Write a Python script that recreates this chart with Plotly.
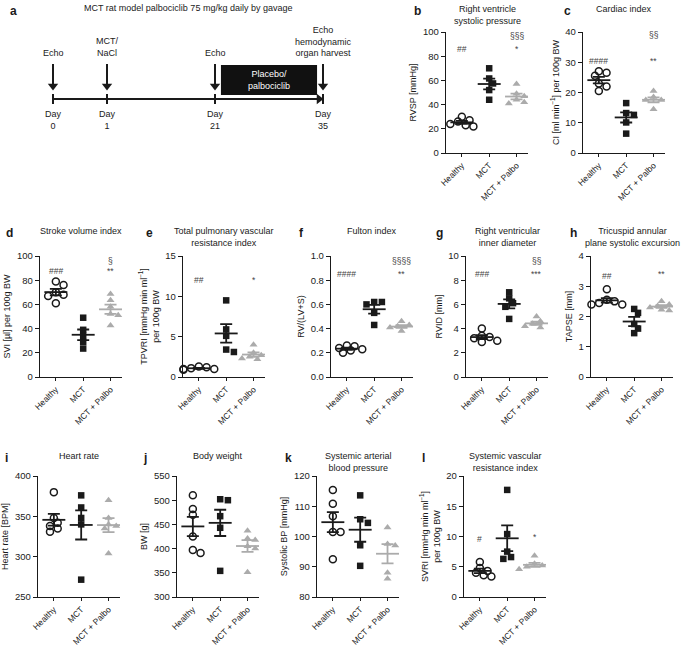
"""
MCT rat model / palbociclib: schematic plus eleven dot plots (mean +/- SEM).
"""
import numpy as np
import plotly.graph_objects as go

W, H = 685, 647
FONT = "Liberation Sans, Arial, sans-serif"
INK = "#1a1a1a"
GREY = "#ababab"

groups = ["Healthy", "MCT", "MCT + Palbo"]

# ---- per-animal values ----
rvsp_healthy = [30, 27, 26, 24, 22, 23]
rvsp_mct = [70, 61.6, 57.5, 52, 44]
rvsp_palbo = [57, 49, 47, 44, 41, 42]

ci_healthy = [26.5, 27, 25.5, 23, 22, 20.5]
ci_mct = [16.5, 13.2, 12.6, 10.1, 6.4]
ci_palbo = [20.5, 18.5, 17.5, 17.5, 17, 14.5]

svi_healthy = [79, 76, 70, 68, 67, 61]
svi_mct = [49, 39, 34, 29, 23.5]
svi_palbo = [68.5, 63.5, 58, 52, 51, 42.5]

tpvri_healthy = [1.2, 1.3, 1.1, 1.0, 0.9, 1.0]
tpvri_mct = [9.5, 5.9, 5.1, 3.4, 3.1]
tpvri_palbo = [4.0, 3.0, 2.7, 2.5, 2.3, 2.2]

fulton_healthy = [0.26, 0.255, 0.24, 0.23, 0.22, 0.20]
fulton_mct = [0.62, 0.62, 0.60, 0.53, 0.43]
fulton_palbo = [0.46, 0.43, 0.42, 0.41, 0.40, 0.38]

rvid_healthy = [4.0, 3.4, 3.3, 3.2, 3.0, 2.9]
rvid_mct = [7.0, 6.5, 6.1, 5.8, 4.8]
rvid_palbo = [5.0, 4.6, 4.4, 4.3, 4.2, 4.1]

tapse_healthy = [2.9, 2.55, 2.5, 2.45, 2.4, 2.4]
tapse_mct = [2.25, 2.12, 1.75, 1.6, 1.45]
tapse_palbo = [2.5, 2.4, 2.35, 2.3, 2.22, 2.2]

hr_healthy = [380, 348, 342, 338, 335, 331]
hr_mct = [376, 361, 348, 340, 271.5]
hr_palbo = [370, 348, 340, 335, 338, 304]

bw_healthy = [510, 482, 470, 425, 397, 391]
bw_mct = [502, 500, 467, 443, 354]
bw_palbo = [437, 421, 418, 405, 400, 351]

sbp_healthy = [115.4, 110.8, 106.7, 101.5, 101.5, 92.5]
sbp_mct = [113.6, 105.7, 104.5, 97.1, 90.3]
sbp_palbo = [103, 97.5, 97, 88, 86]

svri_healthy = [5.8, 4.8, 4.3, 4.0, 3.6, 3.4]
svri_mct = [17.7, 10.4, 7.5, 6.6, 6.3]
svri_palbo = [6.8, 5.5, 5.2, 5.0, 4.8, 4.6]

# ---- timeline of panel a ----
event_days = [0, 1, 21, 35]
event_labels = ["Echo", "MCT/<br>NaCl", "Echo", "Echo<br>hemodynamic<br>organ harvest"]
treatment_days = (21, 35)
treatment_label = "Placebo/<br>palbociclib"
EVENT_SLOT = [0, 1, 3, 5]  # schematic (not to scale) spacing of the days
SLOT_PX = 54
SLOT0_PX = 53

ROWS = {1: (32, 153), 2: (256, 377), 3: (476, 597)}  # y pixel top / bottom of plot areas
AX_W = 82
X_RANGE = [-0.58, 2.42]

panels = [
    dict(letter="b", title="Right ventricle<br>systolic pressure", ytitle="RVSP [mmHg]",
         data=[rvsp_healthy, rvsp_mct, rvsp_palbo], yr=[0, 100], dtick=20, row=1, x0=446, lx=412,
         marks=[("##", 0, 86), ("*", 2, 86), ("§§§", 2, 97)]),
    dict(letter="c", title="Cardiac index", ytitle="CI [ml min<sup>−1</sup>] per 100g BW",
         data=[ci_healthy, ci_mct, ci_palbo], yr=[0, 40], dtick=10, row=1, x0=583, lx=562,
         marks=[("####", 0, 30.5), ("**", 2, 30.5), ("§§", 2, 39)]),
    dict(letter="d", title="Stroke volume index", ytitle="SVI [µl] per 100g BW",
         data=[svi_healthy, svi_mct, svi_palbo], yr=[0, 100], dtick=20, row=2, x0=40, lx=4,
         marks=[("###", 0, 88), ("**", 2, 88), ("§", 2, 96)]),
    dict(letter="e", title="Total pulmonary vascular<br>resistance index",
         ytitle="TPVRI [mmHg min ml<sup>−1</sup>]<br>per 100g BW",
         data=[tpvri_healthy, tpvri_mct, tpvri_palbo], yr=[0, 15], dtick=5, row=2, x0=183, lx=144,
         marks=[("##", 0, 12), ("*", 2, 12)]),
    dict(letter="f", title="Fulton index", ytitle="RV/(LV+S)",
         data=[fulton_healthy, fulton_mct, fulton_palbo], yr=[0, 1], dtick=0.2, fmt=".1f",
         row=2, x0=331, lx=297,
         marks=[("####", 0, 0.85), ("**", 2, 0.85), ("§§§§", 2, 0.96)]),
    dict(letter="g", title="Right ventricular<br>inner diameter", ytitle="RVID [mm]",
         data=[rvid_healthy, rvid_mct, rvid_palbo], yr=[0, 10], dtick=2, row=2, x0=466, lx=434,
         marks=[("###", 0, 8.5), ("***", 2, 8.5), ("§§", 2, 9.6)]),
    dict(letter="h", title="Tricuspid annular<br>plane systolic excursion", ytitle="TAPSE [mm]",
         data=[tapse_healthy, tapse_mct, tapse_palbo], yr=[0, 4], dtick=1, row=2, x0=591, lx=568,
         marks=[("##", 0, 3.35), ("**", 2, 3.4)]),
    dict(letter="i", title="Heart rate", ytitle="Heart rate [BPM]",
         data=[hr_healthy, hr_mct, hr_palbo], yr=[250, 400], dtick=50, row=3, x0=38, lx=3,
         marks=[]),
    dict(letter="j", title="Body weight", ytitle="BW [g]",
         data=[bw_healthy, bw_mct, bw_palbo], yr=[300, 550], dtick=50, row=3, x0=177, lx=141,
         marks=[]),
    dict(letter="k", title="Systemic arterial<br>blood pressure", ytitle="Systolic BP [mmHg]",
         data=[sbp_healthy, sbp_mct, sbp_palbo], yr=[80, 120], dtick=10, row=3, x0=317, lx=283,
         marks=[]),
    dict(letter="l", title="Systemic vascular<br>resistance index",
         ytitle="SVRI [mmHg min ml<sup>−1</sup>]<br>per 100g BW",
         data=[svri_healthy, svri_mct, svri_palbo], yr=[0, 20], dtick=5, row=3, x0=464, lx=420,
         marks=[("#", 0, 9.6), ("*", 2, 9.9)]),
]

GROUP_STYLE = [
    dict(symbol="circle-open", size=7, color=INK, line=dict(width=1.5, color=INK)),
    dict(symbol="square", size=6.5, color=INK),
    dict(symbol="triangle-up", size=7, color=GREY),
]
GROUP_COLOR = [INK, INK, GREY]
TITLE_TOP = {1: 2, 2: 224, 3: 449}


def px_x(p):
    return p / W


def px_y(p):
    return 1 - p / H


def swarm(values, yr, h_px, unit_px, min_d=5.5):
    """Spread overlapping points sideways (simple beeswarm), returns offsets in category units."""
    ys = [(v - yr[0]) / (yr[1] - yr[0]) * h_px for v in values]
    placed = []
    offs = [0.0] * len(values)
    for i in np.argsort(ys)[::-1]:
        for k in [0, 1, -1, 2, -2, 3, -3, 4, -4]:
            dx = k * min_d * 0.7
            if all((dx - px) ** 2 + (ys[i] - py) ** 2 >= min_d ** 2 for px, py in placed):
                break
        placed.append((dx, ys[i]))
        offs[i] = dx / unit_px
    return np.array(offs)


fig = go.Figure()
layout_axes = {}
annotations = []
unit_px = AX_W / (X_RANGE[1] - X_RANGE[0])

for n, p in enumerate(panels, start=1):
    sid = "" if n == 1 else str(n)
    top, bot = ROWS[p["row"]]
    h_px = bot - top
    for gi, vals in enumerate(p["data"]):
        vals = np.array(vals, dtype=float)
        offs = swarm(vals, p["yr"], h_px, unit_px)
        fig.add_trace(go.Scatter(x=gi + offs, y=vals, mode="markers", marker=GROUP_STYLE[gi],
                                 xaxis="x" + sid, yaxis="y" + sid, cliponaxis=False))
    for gi, vals in enumerate(p["data"]):
        vals = np.array(vals, dtype=float)
        mean = vals.mean()
        sem = vals.std(ddof=1) / np.sqrt(len(vals))
        c = GROUP_COLOR[gi]
        fig.add_trace(go.Scatter(x=[gi - 0.42, gi + 0.42], y=[mean, mean], mode="lines",
                                 line=dict(color=c, width=1.8), xaxis="x" + sid, yaxis="y" + sid))
        fig.add_trace(go.Scatter(x=[gi], y=[mean], mode="markers",
                                 marker=dict(size=1, color="rgba(0,0,0,0)"),
                                 error_y=dict(type="data", array=[sem], width=6, thickness=1.8, color=c),
                                 xaxis="x" + sid, yaxis="y" + sid))

    layout_axes["xaxis" + sid] = dict(
        domain=[px_x(p["x0"]), px_x(p["x0"] + AX_W)], range=X_RANGE, anchor="y" + sid,
        tickmode="array", tickvals=[0, 1, 2], ticktext=groups, tickangle=-45,
        showline=True, linecolor=INK, linewidth=1.2, ticks="outside", ticklen=3,
        tickcolor=INK, showgrid=False, zeroline=False, automargin=False,
        tickfont=dict(size=8.5, color=INK, family=FONT),
    )
    layout_axes["yaxis" + sid] = dict(
        domain=[px_y(bot), px_y(top)], range=p["yr"], anchor="x" + sid,
        dtick=p["dtick"], tick0=p["yr"][0], tickformat=p.get("fmt", ""),
        showline=True, linecolor=INK, linewidth=1.2, ticks="outside", ticklen=4,
        tickcolor=INK, showgrid=False, zeroline=False, automargin=False,
        tickfont=dict(size=9.5, color=INK, family=FONT),
        title=dict(text=p["ytitle"], font=dict(size=9, color=INK, family=FONT), standoff=4),
    )
    annotations.append(dict(
        text=p["title"], xref="paper", yref="paper", x=px_x(p["x0"] + AX_W / 2),
        y=px_y(TITLE_TOP[p["row"]]), xanchor="center", yanchor="top", showarrow=False,
        font=dict(size=9, color=INK, family=FONT)))
    annotations.append(dict(
        text="<b>%s</b>" % p["letter"], xref="paper", yref="paper", x=px_x(p["lx"]),
        y=px_y(TITLE_TOP[p["row"]]), xanchor="left", yanchor="top", showarrow=False,
        font=dict(size=12, color=INK, family=FONT)))
    for txt, gi, yv in p["marks"]:
        annotations.append(dict(
            text=txt, xref="x" + sid, yref="y" + sid, x=gi, y=yv, showarrow=False,
            font=dict(size=8.5, color="#444", family=FONT)))

# ---- panel a: treatment schematic, drawn in its own hidden axes (y in pixels from top) ----
na = len(panels) + 1
sa = str(na)
pad = 0.5  # slot units of room either side so nothing is clipped at the axis edge
layout_axes["xaxis" + sa] = dict(
    domain=[px_x(SLOT0_PX - pad * SLOT_PX), px_x(SLOT0_PX + SLOT_PX * (EVENT_SLOT[-1] + pad))],
    range=[-pad, EVENT_SLOT[-1] + pad], anchor="y" + sa, visible=False)
layout_axes["yaxis" + sa] = dict(domain=[px_y(140), 1], range=[140, 0], anchor="x" + sa,
                                  visible=False)
slot_of = dict(zip(event_days, EVENT_SLOT))
xa, ya = "x" + sa, "y" + sa

# day ticks, main time axis and the arrow shafts
fig.add_trace(go.Scatter(
    x=[v for s in EVENT_SLOT for v in (s, s, None)] + [EVENT_SLOT[0], EVENT_SLOT[-1] - 5 / SLOT_PX],
    y=[v for _ in EVENT_SLOT for v in (94, 104, None)] + [99, 99],
    mode="lines", line=dict(color=INK, width=2), xaxis=xa, yaxis=ya))
fig.add_trace(go.Scatter(
    x=[v for s in EVENT_SLOT for v in (s, s, None)],
    y=[v for _ in EVENT_SLOT for v in (64, 84, None)],
    mode="lines", line=dict(color=INK, width=2), xaxis=xa, yaxis=ya))
# arrow heads
fig.add_trace(go.Scatter(
    x=EVENT_SLOT, y=[86] * len(EVENT_SLOT), mode="markers",
    marker=dict(symbol="triangle-down", size=9, color=INK), xaxis=xa, yaxis=ya))
fig.add_trace(go.Scatter(
    x=[EVENT_SLOT[-1] - 4 / SLOT_PX], y=[99], mode="markers",
    marker=dict(symbol="triangle-right", size=9, color=INK), xaxis=xa, yaxis=ya))

fig.add_shape(type="rect", xref=xa, yref=ya,
              x0=slot_of[treatment_days[0]] + 0.11, x1=slot_of[treatment_days[1]] - 0.11,
              y0=65, y1=95, fillcolor="#111", line=dict(width=0))
annotations.append(dict(x=(slot_of[treatment_days[0]] + slot_of[treatment_days[1]]) / 2, y=80,
                        xref=xa, yref=ya, text=treatment_label, showarrow=False,
                        font=dict(size=9, color="white", family=FONT)))
for day, lab in zip(event_days, event_labels):
    s = slot_of[day]
    annotations.append(dict(x=s, y=60, xref=xa, yref=ya, text=lab, showarrow=False,
                            yanchor="bottom", font=dict(size=9, color=INK, family=FONT)))
    annotations.append(dict(x=s, y=107, xref=xa, yref=ya, text="Day<br>%d" % day,
                            showarrow=False, yanchor="top",
                            font=dict(size=9, color=INK, family=FONT)))
annotations.append(dict(x=EVENT_SLOT[-1] / 2, y=8, xref=xa, yref=ya,
                        text="MCT rat model palbociclib 75 mg/kg daily by gavage",
                        showarrow=False, font=dict(size=9, color=INK, family=FONT)))
annotations.append(dict(x=px_x(8), y=px_y(2), xref="paper", yref="paper", text="<b>a</b>",
                        xanchor="left", yanchor="top", showarrow=False,
                        font=dict(size=12, color=INK, family=FONT)))

fig.update_layout(
    width=W, height=H, margin=dict(l=0, r=0, t=0, b=0, autoexpand=False),
    paper_bgcolor="white", plot_bgcolor="white", showlegend=False, hovermode=False,
    font=dict(family=FONT, color=INK), annotations=annotations, **layout_axes,
)
# the page body keeps its default 8px margin otherwise, which shifts the figure in the window
fig.write_html("out.html", config={"displayModeBar": False, "staticPlot": True},
               post_script="document.body.style.margin='0';"
                           "document.body.style.overflow='hidden';")
